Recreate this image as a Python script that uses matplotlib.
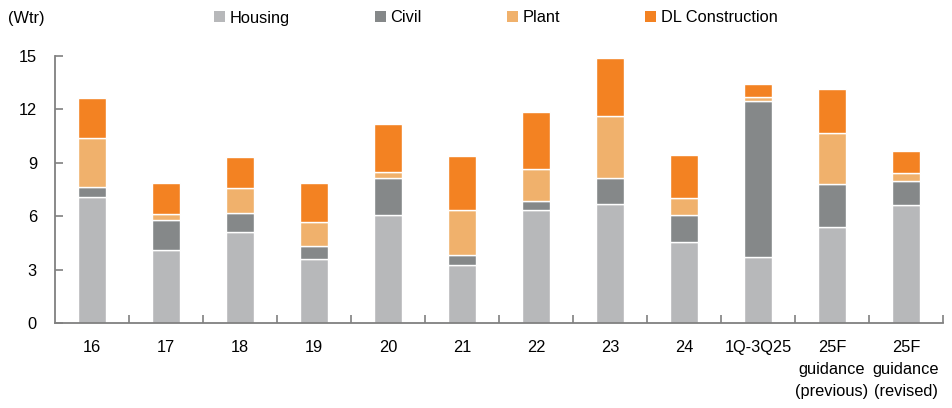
import matplotlib
matplotlib.use("Agg")
import matplotlib.pyplot as plt
from matplotlib.patches import Patch
import numpy as np

# Order backlog / new orders by segment (Wtr)
categories = ["16", "17", "18", "19", "20", "21", "22", "23", "24", "1Q-3Q25",
              "25F\nguidance\n(previous)", "25F\nguidance\n(revised)"]
housing = [7.08, 4.08, 5.09, 3.58, 6.05, 3.24, 6.33, 6.70, 4.53, 3.71, 5.39, 6.63]
civil = [0.56, 1.73, 1.09, 0.73, 2.11, 0.60, 0.54, 1.43, 1.52, 8.78, 2.40, 1.37]
plant = [2.77, 0.29, 1.42, 1.35, 0.30, 2.53, 1.78, 3.48, 0.97, 0.19, 2.90, 0.43]
dl_construction = [2.21, 1.77, 1.74, 2.21, 2.70, 3.01, 3.22, 3.26, 2.40, 0.73, 2.47, 1.21]

series = [("Housing", housing, "#b7b8ba"),
          ("Civil", civil, "#858889"),
          ("Plant", plant, "#f0b16c"),
          ("DL Construction", dl_construction, "#f38222")]

plt.rcParams["font.family"] = ["Liberation Sans", "DejaVu Sans"]
fs = 11.8

fig = plt.figure(figsize=(9.52, 4.08), dpi=100)
ax = fig.add_axes([55 / 952, 85 / 408, 888 / 952, 267 / 408])

x = np.arange(len(categories))
bottom = np.zeros(len(categories))
for name, vals, color in series:
    ax.bar(x, vals, width=0.39, bottom=bottom, color=color,
           edgecolor="white", linewidth=1.0, label=name)
    bottom += np.array(vals)

ax.set_xlim(-0.5, len(categories) - 0.5)
ax.set_ylim(0, 15)
ax.set_yticks([0, 3, 6, 9, 12, 15])

ax.set_xticks(x)
ax.set_xticklabels(categories, fontsize=fs, linespacing=1.6, va="top")
ax.set_xticks(np.arange(0.5, len(categories), 1.0), minor=True)
ax.tick_params(axis="x", which="major", length=0, pad=12)
ax.tick_params(axis="x", which="minor", direction="in", length=6,
               width=1.2, color="#808080")
ax.tick_params(axis="y", direction="in", length=6, width=1.2,
               color="#808080", labelsize=fs, pad=13)

for side in ("top", "right"):
    ax.spines[side].set_visible(False)
for side in ("left", "bottom"):
    ax.spines[side].set_color("#808080")
    ax.spines[side].set_linewidth(1.3)

fig.text(8 / 952, 1 - 18 / 408, "(Wtr)", fontsize=fs, va="center", ha="left")

handles = [Patch(facecolor=c, edgecolor="none") for _, _, c in series]
labels = [n for n, _, _ in series]
fig.legend(handles, labels, loc="center left",
           bbox_to_anchor=(214 / 952, 1 - 18 / 408), ncol=4, frameon=False,
           fontsize=fs, handlelength=0.65, handleheight=0.65,
           handletextpad=0.3, columnspacing=5.2, borderaxespad=0,
           borderpad=0)

fig.savefig("out.png", dpi=100)
